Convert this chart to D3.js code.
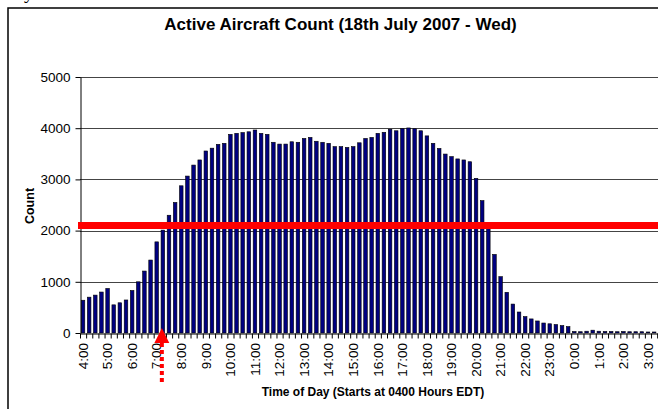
<!DOCTYPE html>
<html>
<head>
<meta charset="utf-8">
<script src="https://cdn.jsdelivr.net/npm/d3@7"></script>
<style>
  body { margin: 0; background: #fff; }
  text { font-family: Arial, "Liberation Sans", sans-serif; fill: #000; }
  .title { font-size: 17px; font-weight: bold; }
  .axis-title { font-size: 12px; font-weight: bold; }
  .tick-label { font-size: 13.5px; }
  .bar { fill: #000080; stroke: #000; stroke-width: 0.6; }
</style>
</head>
<body>
<div id="chart"></div>
<script>
var hourLabels = ["4:00","5:00","6:00","7:00","8:00","9:00","10:00","11:00","12:00","13:00","14:00","15:00",
  "16:00","17:00","18:00","19:00","20:00","21:00","22:00","23:00","0:00","1:00","2:00","3:00"];
var quarters = ["00","15","30","45"];

// active aircraft, one value per 15 minutes starting 04:00
var counts = [640, 700, 740, 800, 870, 550, 590, 645, 830, 1000, 1210, 1425, 1780, 2010, 2300, 2550,
  2875, 3065, 3280, 3380, 3555, 3610, 3685, 3705, 3880, 3900, 3915, 3930, 3965, 3900, 3880, 3725,
  3690, 3690, 3735, 3725, 3800, 3820, 3745, 3725, 3705, 3640, 3640, 3625, 3640, 3715, 3800, 3820,
  3900, 3920, 3980, 3950, 3990, 4005, 3990, 3950, 3850, 3705, 3605, 3495, 3445, 3400, 3380, 3345,
  3020, 2585, 2040, 1535, 1100, 795, 565, 410, 320, 275, 235, 195, 180, 165, 145, 125,
  30, 25, 35, 55, 35, 30, 30, 25, 30, 25, 25, 25, 20, 20, 20, 15];
var yTicks = [0, 1000, 2000, 3000, 4000, 5000];
var thresholdValue = 2100;
var markerSlot = "7:15";

var categories = [];
hourLabels.forEach(function(h) {
  var hr = h.split(":")[0];
  quarters.forEach(function(q) { categories.push(hr + ":" + q); });
});
var dataset = categories.map(function(c, i) { return {slot: c, value: counts[i]}; });

var W = 658, H = 409;
var margin = {top: 77, left: 80, bottom: 76};
var step = 6.14;

var svg = d3.select("#chart")
  .append("svg")
  .attr("width", W)
  .attr("height", H);

// chart frame
svg.append("rect")
  .attr("x", 8).attr("y", 8)
  .attr("width", 720).attr("height", 460)
  .attr("fill", "#fff")
  .attr("stroke", "#000")
  .attr("stroke-width", 1.5);

// bit of the page text above the chart
svg.append("text")
  .attr("x", 24).attr("y", -1)
  .style("font-family", "'Liberation Serif', serif")
  .style("font-size", "19px")
  .text("y");

var x = d3.scaleBand()
  .domain(categories)
  .range([margin.left, margin.left + step * categories.length])
  .paddingInner(0.42)
  .paddingOuter(0.2);

var xEdge = d3.scaleLinear()
  .domain([0, categories.length])
  .range([margin.left, margin.left + step * categories.length]);

var y = d3.scaleLinear()
  .domain([0, 5000])
  .range([H - margin.bottom, margin.top]);

// gridlines
svg.append("g")
  .selectAll("line")
  .data(yTicks.slice(1))
  .enter()
  .append("line")
  .attr("x1", margin.left)
  .attr("x2", W + 20)
  .attr("y1", function(d) { return Math.round(y(d)) + 0.5; })
  .attr("y2", function(d) { return Math.round(y(d)) + 0.5; })
  .attr("stroke", "#444")
  .attr("stroke-width", 1);

svg.selectAll(".bar")
  .data(dataset)
  .enter()
  .append("rect")
  .attr("class", "bar")
  .attr("x", function(d) { return x(d.slot); })
  .attr("y", function(d) { return y(d.value); })
  .attr("width", x.bandwidth())
  .attr("height", function(d) { return y(0) - y(d.value); });

// y axis
var yAxis = svg.append("g")
  .attr("transform", "translate(" + (margin.left + 0.5) + ",0)")
  .call(d3.axisLeft(y).tickValues(yTicks).tickSize(5).tickSizeOuter(0).tickFormat(d3.format("d")));
yAxis.select(".domain").attr("stroke", "#000");
yAxis.selectAll(".tick line").attr("stroke", "#000");
yAxis.selectAll(".tick text")
  .attr("class", "tick-label")
  .attr("x", -10)
  .attr("font-size", null)
  .attr("font-family", null);

// x axis: ticks on slot boundaries
var xAxis = svg.append("g")
  .attr("transform", "translate(0," + (Math.round(y(0)) + 0.5) + ")")
  .call(d3.axisBottom(xEdge).tickValues(d3.range(0, categories.length + 1)).tickSize(5).tickSizeOuter(0).tickFormat(""));
xAxis.select(".domain").attr("stroke", "#000");
xAxis.selectAll(".tick line").attr("stroke", "#000");

svg.append("g")
  .selectAll("text")
  .data(hourLabels)
  .enter()
  .append("text")
  .attr("class", "tick-label")
  .attr("transform", function(d) {
    return "translate(" + (x(d) + x.bandwidth() / 2) + "," + (y(0) + 10) + ") rotate(-90)";
  })
  .attr("dy", "0.35em")
  .style("text-anchor", "end")
  .text(function(d) { return d; });

// threshold line
svg.append("line")
  .attr("x1", margin.left - 2)
  .attr("x2", W + 20)
  .attr("y1", y(thresholdValue))
  .attr("y2", y(thresholdValue))
  .attr("stroke", "#ff0000")
  .attr("stroke-width", 7);

// arrow marker
var ax = x(markerSlot) + x.bandwidth() / 2 - 1;
var ay = y(0) - 5;
svg.append("path")
  .attr("d", "M" + ax + "," + ay + "L" + (ax + 7.5) + "," + (ay + 15) + "L" + (ax - 7.5) + "," + (ay + 15) + "Z")
  .attr("fill", "#ff0000");
svg.append("line")
  .attr("x1", ax).attr("x2", ax)
  .attr("y1", ay + 15).attr("y2", ay + 57)
  .attr("stroke", "#ff0000")
  .attr("stroke-width", 4)
  .attr("stroke-dasharray", "4,3");

// titles
svg.append("text")
  .attr("class", "title")
  .attr("x", 340.5)
  .attr("y", 30)
  .style("text-anchor", "middle")
  .text("Active Aircraft Count (18th July 2007 - Wed)");

svg.append("text")
  .attr("class", "axis-title")
  .attr("x", 373)
  .attr("y", 395.5)
  .style("text-anchor", "middle")
  .text("Time of Day (Starts at 0400 Hours EDT)");

svg.append("text")
  .attr("class", "axis-title")
  .attr("transform", "translate(34,206) rotate(-90)")
  .style("text-anchor", "middle")
  .style("font-size", "12.5px")
  .text("Count");
</script>
</body>
</html>
